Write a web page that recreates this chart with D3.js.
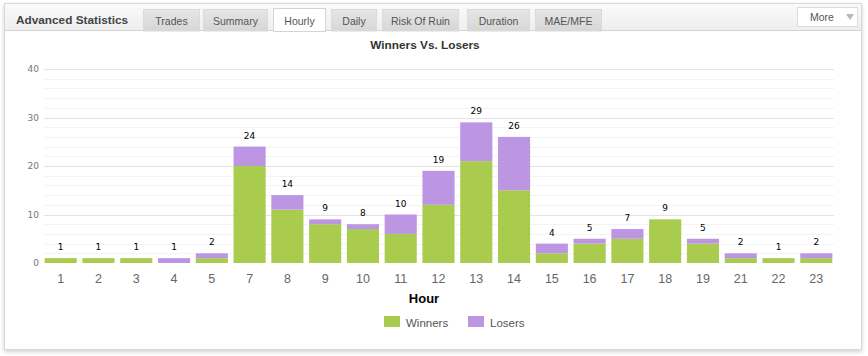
<!DOCTYPE html>
<html><head><meta charset="utf-8">
<script src="https://cdn.jsdelivr.net/npm/d3@7"></script>
<style>
html,body{margin:0;padding:0;background:#fff;}
svg{display:block;}
</style></head>
<body>
<svg id="c" width="868" height="356"></svg>
<script>
const hours = ["1","2","3","4","5","7","8","9","10","11","12","13","14","15","16","17","18","19","21","22","23"];
const winners = [1,1,1,0,1,20,11,8,7,6,12,21,15,2,4,5,9,4,1,1,1];
const losers  = [0,0,0,1,1,4,3,1,1,4,7,8,11,2,1,2,0,1,1,0,1];
const yTicks = [0,10,20,30,40];
const tabs = ["Trades","Summary","Hourly","Daily","Risk Of Ruin","Duration","MAE/MFE"];
const tabX = [143,203,273,331,382,467,535];
const tabW = [56,64,52,45,76,62,66];
const activeTab = "Hourly";
const seriesNames = ["Winners","Losers"];
const colors = ["#a9cc4e","#bd96e3"];

const F = "Liberation Sans, Arial, sans-serif";
const FV = "DejaVu Sans, Verdana, sans-serif";
const svg = d3.select("#c");
const defs = svg.append("defs");
const sh = defs.append("filter").attr("id","sh").attr("x","-5%").attr("y","-5%").attr("width","110%").attr("height","115%");
sh.append("feDropShadow").attr("dx",0).attr("dy",2).attr("stdDeviation",2).attr("flood-color","#000").attr("flood-opacity",0.18);
const hg = defs.append("linearGradient").attr("id","hg").attr("x1",0).attr("y1",0).attr("x2",0).attr("y2",1);
hg.append("stop").attr("offset","0").attr("stop-color","#fafafa");
hg.append("stop").attr("offset","1").attr("stop-color","#eeeeee");
const tg = defs.append("linearGradient").attr("id","tg").attr("x1",0).attr("y1",0).attr("x2",0).attr("y2",1);
tg.append("stop").attr("offset","0").attr("stop-color","#e6e6e6");
tg.append("stop").attr("offset","1").attr("stop-color","#d6d6d6");

// panel
svg.append("rect").attr("x",4.5).attr("y",3.5).attr("width",857).attr("height",346)
  .attr("fill","#fff").attr("stroke","#d8d8d8").attr("filter","url(#sh)");
svg.append("rect").attr("x",5).attr("y",4).attr("width",856).attr("height",27).attr("fill","url(#hg)");
svg.append("line").attr("x1",5).attr("x2",861).attr("y1",30.5).attr("y2",30.5).attr("stroke","#d4d4d4");

svg.append("text").attr("x",16).attr("y",24).attr("font-family",F)
  .attr("font-size",11.8).attr("font-weight","bold").attr("fill","#444").text("Advanced Statistics");

tabs.forEach((t,i)=>{
  const act = t===activeTab;
  svg.append("rect").attr("x",tabX[i]+0.5).attr("y",act?8.5:9.5).attr("width",tabW[i]).attr("height",act?23:21.5)
    .attr("fill",act?"#fff":"url(#tg)").attr("stroke",act?"#d4d4d4":"#dadada");
  svg.append("text").attr("x",tabX[i]+tabW[i]/2+0.5).attr("y",25).attr("text-anchor","middle")
    .attr("font-family",F).attr("font-size",10.5).attr("fill","#555").text(t);
});
// More button
svg.append("rect").attr("x",797.5).attr("y",7.5).attr("width",60).attr("height",19).attr("fill","#fff").attr("stroke","#dcdcdc");
svg.append("text").attr("x",810).attr("y",21).attr("font-family",F).attr("font-size",10.5).attr("fill","#555").text("More");
svg.append("path").attr("d","M846,14 L854,14 L850,20 Z").attr("fill","#b8b8b8");

// chart
const x = d3.scaleBand().domain(hours).range([42,835]).paddingInner(0.15).paddingOuter(0.07);
const y = d3.scaleLinear().domain([0,40]).range([263,69]);

const g = svg.append("g");
// minor grid
const minor = d3.range(0,41,2).filter(v=>v%10!==0);
g.selectAll(".mg").data(minor).join("line").attr("x1",44).attr("x2",834)
  .attr("y1",d=>Math.round(y(d))+0.5).attr("y2",d=>Math.round(y(d))+0.5).attr("stroke","#f3f3f3");
g.selectAll(".gl").data(yTicks.filter(v=>v>0)).join("line").attr("x1",44).attr("x2",834)
  .attr("y1",d=>Math.round(y(d))+0.5).attr("y2",d=>Math.round(y(d))+0.5).attr("stroke","#e4e4e4");

// y axis
const ya = g.append("g").attr("transform","translate(39,0)").call(d3.axisLeft(y).tickValues(yTicks).tickSize(0).tickPadding(0));
ya.select(".domain").remove();
ya.selectAll("text").attr("font-family",FV).attr("font-size",9).attr("fill","#777");

// stacked bars
const data = hours.map((h,i)=>({h, Winners:winners[i], Losers:losers[i]}));
const stack = d3.stack().keys(seriesNames)(data);
g.selectAll(".s").data(stack).join("g").attr("fill",(d,i)=>colors[i])
  .selectAll("rect").data(d=>d).join("rect")
  .attr("x",d=>x(d.data.h)).attr("width",x.bandwidth())
  .attr("y",d=>y(d[1])).attr("height",d=>y(d[0])-y(d[1]));

// totals
g.selectAll(".tot").data(data).join("text")
  .attr("x",d=>x(d.h)+x.bandwidth()/2).attr("y",d=>y(d.Winners+d.Losers)-8)
  .attr("text-anchor","middle").attr("font-family",FV).attr("font-size",9)
  .attr("fill","#000").text(d=>d.Winners+d.Losers);

// x axis
const xa = g.append("g").attr("transform","translate(0,283)").call(d3.axisBottom(x).tickSize(0).tickPadding(0));
xa.select(".domain").remove();
xa.selectAll("text").attr("dy",0).attr("font-family",F).attr("font-size",12.5).attr("fill","#666");

svg.append("text").attr("x",424).attr("y",303).attr("text-anchor","middle")
  .attr("font-family",F).attr("font-size",13).attr("font-weight","bold").attr("fill","#000").text("Hour");

svg.append("text").attr("x",425).attr("y",49).attr("text-anchor","middle")
  .attr("font-family",F).attr("font-size",11.8).attr("font-weight","bold").attr("fill","#333").text("Winners Vs. Losers");

// legend
const legX = [384,468];
seriesNames.forEach((n,i)=>{
  svg.append("rect").attr("x",legX[i]).attr("y",316).attr("width",16).attr("height",11).attr("fill",colors[i]);
  svg.append("text").attr("x",legX[i]+22).attr("y",327).attr("font-family",F)
    .attr("font-size",11.5).attr("fill","#555").text(n);
});
</script>
</body></html>
